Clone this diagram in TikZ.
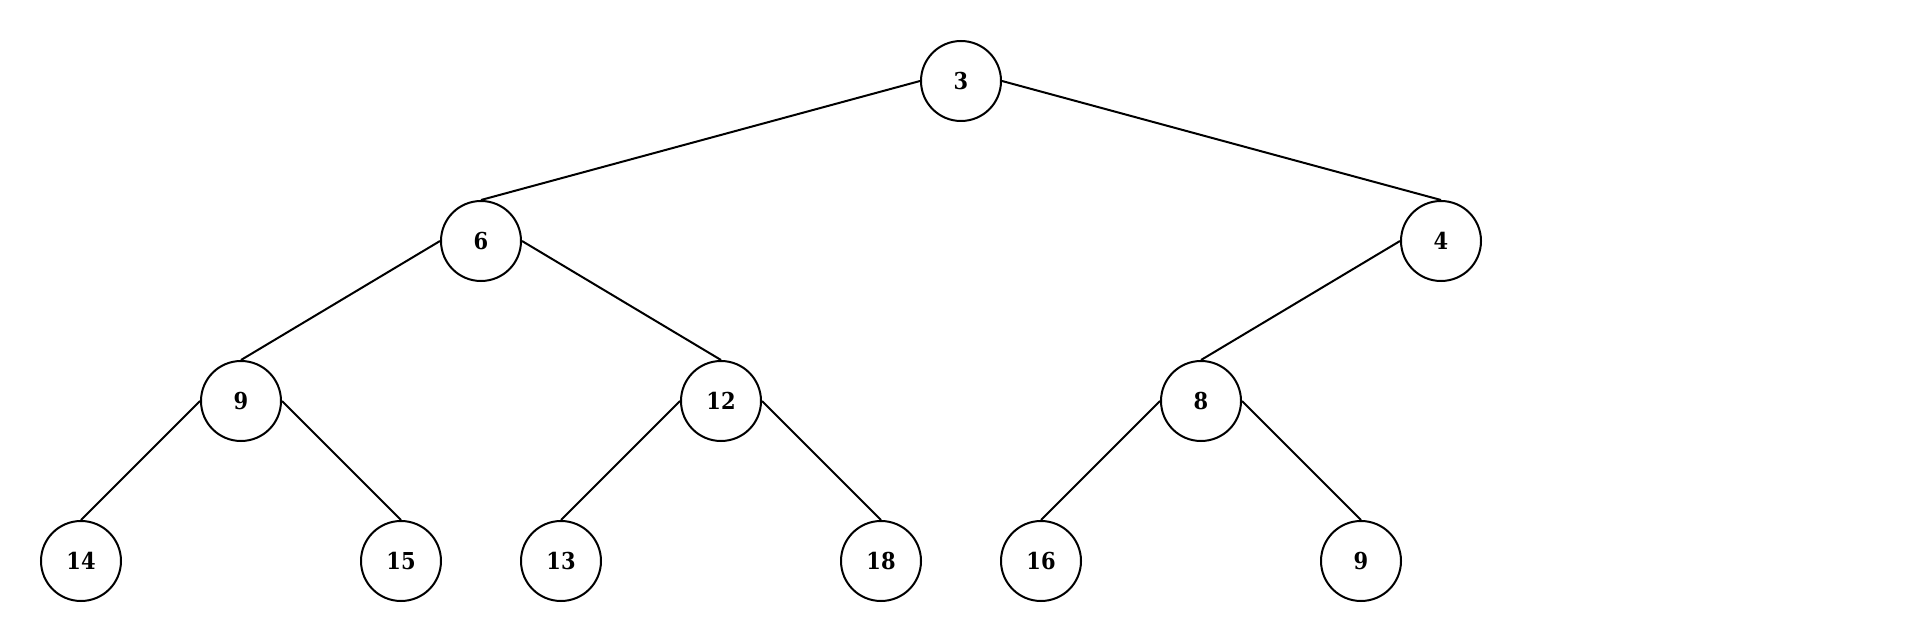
\documentclass[tikz,border=0pt]{standalone}
\usepackage{fontspec}
\setmainfont{DejaVu Serif Condensed}
\newcommand{\nodefont}{\bfseries\fontsize{23.3}{28}\selectfont}
\begin{document}
\begin{tikzpicture}[x=1pt,y=-1pt,
  tn/.style={circle,draw=black,line width=2pt,minimum size=80pt,inner sep=0pt,font=\nodefont},
  edge/.style={line width=2pt}]
\useasboundingbox (0,0) rectangle (1922,644);
\node[tn] (r) at (961,81) {3};
\node[tn] (a) at (481,241) {6};
\node[tn] (b) at (1441,241) {4};
\node[tn] (c) at (241,401) {9};
\node[tn] (d) at (721,401) {12};
\node[tn] (e) at (1201,401) {8};
\node[tn] (f) at (81,561) {14};
\node[tn] (g) at (401,561) {15};
\node[tn] (h) at (561,561) {13};
\node[tn] (i) at (881,561) {18};
\node[tn] (j) at (1041,561) {16};
\node[tn] (k) at (1361,561) {9};
\draw[edge] (r.west) -- (a.north);
\draw[edge] (r.east) -- (b.north);
\draw[edge] (a.west) -- (c.north);
\draw[edge] (a.east) -- (d.north);
\draw[edge] (b.west) -- (e.north);
\draw[edge] (c.west) -- (f.north);
\draw[edge] (c.east) -- (g.north);
\draw[edge] (d.west) -- (h.north);
\draw[edge] (d.east) -- (i.north);
\draw[edge] (e.west) -- (j.north);
\draw[edge] (e.east) -- (k.north);
\end{tikzpicture}
\end{document}
